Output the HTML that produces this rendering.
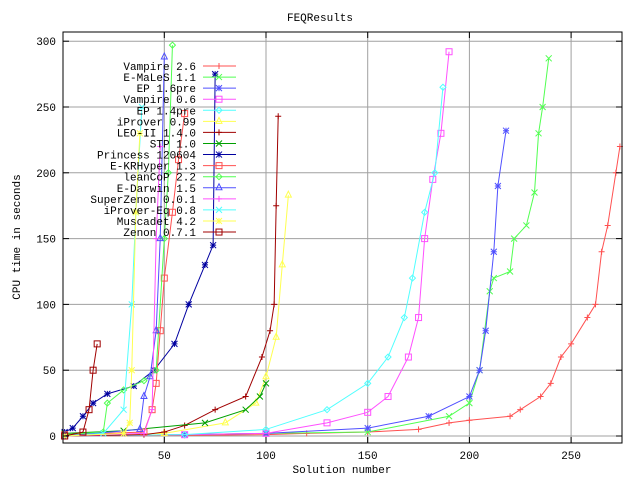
<!DOCTYPE html>
<html><head><meta charset="utf-8"><style>
body{margin:0;background:#fff}
svg text{font-family:"Liberation Mono",monospace;font-size:11px;fill:#000}
</style></head><body>
<svg id="c" width="640" height="480" xmlns="http://www.w3.org/2000/svg">
<rect width="640" height="480" fill="#fff"/>
<g id="grid"></g><g id="series"></g><g id="axes"></g><g id="legend"></g>
</svg>
<script>
const xTicks=[50,100,150,200,250];
const yTicks=[0,50,100,150,200,250,300];
const seriesNames=["Vampire 2.6","E-MaLeS 1.1","EP 1.6pre","Vampire 0.6","EP 1.4pre","iProver 0.99","LEO-II 1.4.0","STP 1.0","Princess 120604","E-KRHyper 1.3","leanCoP 2.2","E-Darwin 1.5","SuperZenon 0.0.1","iProver-Eq 0.8","Muscadet 4.2","Zenon 0.7.1"];
const colors=["#ff5050","#50ff50","#5050ff","#ff50ff","#50ffff","#ffff50","#a00000","#00a000","#0000a0","#ff5050","#50ff50","#5050ff","#ff50ff","#50ffff","#ffff50","#a00000"];
const markers=["plus","cross","star","square","diamond","tri","plus","cross","star","square","diamond","tri","plus","cross","star","square"];
const sVampire26=[[1,0],[60,0.5],[100,1],[120,2],[150,3],[175,5],[190,10],[200,12],[220,15],[225,20],[235,30],[240,40],[245,60],[250,70],[258,90],[262,100],[265,140],[268,160],[272,200],[274,220]];
const sEMaLeS=[[1,0],[60,1],[100,2],[150,3],[190,15],[200,25],[205,50],[210,110],[212,120],[220,125],[222,150],[228,160],[232,185],[234,230],[236,250],[239,287]];
const sEP16=[[1,0],[60,1],[100,2],[150,6],[180,15],[200,30],[205,50],[208,80],[212,140],[214,190],[218,232]];
const sVampire06=[[1,0],[60,1],[100,2],[130,10],[150,18],[160,30],[170,60],[175,90],[178,150],[182,195],[186,230],[190,292]];
const sEP14=[[1,0],[60,1],[100,5],[130,20],[150,40],[160,60],[168,90],[172,120],[178,170],[183,200],[187,265]];
const sIProver=[[1,0],[50,2],[80,10],[95,25],[100,45],[105,75],[108,130],[111,183]];
const sLEO=[[1,0],[40,1],[50,3],[60,8],[75,20],[90,30],[98,60],[102,80],[104,100],[105,175],[106,243]];
const sSTP=[[1,2],[30,4],[70,10],[90,20],[97,30],[100,40]];
const sPrincess=[[1,3],[5,6],[10,15],[15,25],[22,32],[35,38],[45,50],[55,70],[62,100],[70,130],[74,145],[75,275]];
const sEKRHyper=[[1,1],[40,3],[44,20],[46,40],[48,80],[50,120],[54,170],[57,210],[60,245]];
const sLeanCoP=[[1,1],[20,3],[22,25],[30,35],[40,42],[46,50],[50,150],[52,200],[54,297]];
const sEDarwin=[[1,0],[38,5],[40,30],[43,45],[46,80],[48,150],[50,288]];
const sSuperZenon=[[1,0],[40,2],[44,20],[46,150],[48,220]];
const sIProverEq=[[1,0],[20,2],[30,20],[34,100],[36,170],[39,250]];
const sMuscadet=[[1,0],[30,2],[33,10],[34,50],[36,170],[38,230]];
const sZenon=[[1,0],[10,3],[13,20],[15,50],[17,70]];
const allSeries=[sVampire26,sEMaLeS,sEP16,sVampire06,sEP14,sIProver,sLEO,sSTP,sPrincess,sEKRHyper,sLeanCoP,sEDarwin,sSuperZenon,sIProverEq,sMuscadet,sZenon];

const L=63,R=622,T=32,B=443;
const X=v=>62.6+v*2.034;
const Y=v=>436-v*1.316;
const NS="http://www.w3.org/2000/svg";
function mk(tag,parent,attrs){const e=document.createElementNS(NS,tag);for(const k in attrs)e.setAttribute(k,attrs[k]);parent.appendChild(e);return e;}
const grid=document.getElementById('grid'),axes=document.getElementById('axes'),ser=document.getElementById('series'),leg=document.getElementById('legend');
xTicks.forEach(t=>{
  const l=mk('line',grid,{x1:X(t),x2:X(t),y1:T,y2:B,stroke:'#a0a0a0','stroke-width':1});
  
  
  const tx=mk('text',axes,{x:X(t),y:B+16,'text-anchor':'middle'});tx.textContent=t;
  
  
  mk('line',axes,{x1:X(t),x2:X(t),y1:B,y2:B-6,stroke:'#000'});
  mk('line',axes,{x1:X(t),x2:X(t),y1:T,y2:T+6,stroke:'#000'});
});
yTicks.forEach(t=>{
  const l=mk('line',grid,{x1:L,x2:R,y1:Y(t),y2:Y(t),stroke:'#a0a0a0','stroke-width':1});
  
  
  const tx=mk('text',axes,{x:56,y:Y(t)+4,'text-anchor':'end'});tx.textContent=t;
  
  
  mk('line',axes,{x1:L,x2:L+6,y1:Y(t),y2:Y(t),stroke:'#000'});
  mk('line',axes,{x1:R,x2:R-6,y1:Y(t),y2:Y(t),stroke:'#000'});
});
const frame=mk('rect',axes,{x:L,y:T,width:R-L,height:B-T,fill:'none',stroke:'#000'});


let t1=mk('text',axes,{x:320,y:21,'text-anchor':'middle'});t1.textContent='FEQResults';


let t2=mk('text',axes,{x:342,y:473,'text-anchor':'middle'});t2.textContent='Solution number';


let t3=mk('text',axes,{x:20,y:237,'text-anchor':'middle',transform:'rotate(-90 20 237)'});t3.textContent='CPU time in seconds';



function marker(g,type,x,y,c){
  const a={stroke:c,'stroke-width':1,fill:'none'};
  if(type==='plus')mk('path',g,Object.assign({d:`M${x-3} ${y}h6M${x} ${y-3}v6`},a));
  else if(type==='cross')mk('path',g,Object.assign({d:`M${x-3} ${y-3}l6 6M${x-3} ${y+3}l6 -6`},a));
  else if(type==='star')mk('path',g,Object.assign({d:`M${x-3} ${y}h6M${x} ${y-3}v6M${x-3} ${y-3}l6 6M${x-3} ${y+3}l6 -6`},a));
  else if(type==='square')mk('rect',g,Object.assign({x:x-3,y:y-3,width:6,height:6},a));
  else if(type==='diamond')mk('path',g,Object.assign({d:`M${x} ${y-3}l3 3l-3 3l-3 -3z`},a));
  else mk('path',g,Object.assign({d:`M${x} ${y-4}l3 6h-6z`},a));
}
allSeries.forEach((s,i)=>{
  const g=mk('g',ser,{});
  
  
  mk('polyline',g,{points:s.map(p=>X(p[0])+','+Y(p[1])).join(' '),fill:'none',stroke:colors[i],'stroke-width':1});
  s.forEach(p=>marker(g,markers[i],X(p[0]),Y(p[1]),colors[i]));
  const ly=66+i*11.07;
  const lg=mk('g',leg,{});
  
  
  const lt=mk('text',lg,{x:196,y:ly+4,'text-anchor':'end'});lt.textContent=seriesNames[i];
  mk('line',lg,{x1:203,x2:236,y1:ly,y2:ly,stroke:colors[i]});
  marker(lg,markers[i],219,ly,colors[i]);
});
</script>
</body></html>
